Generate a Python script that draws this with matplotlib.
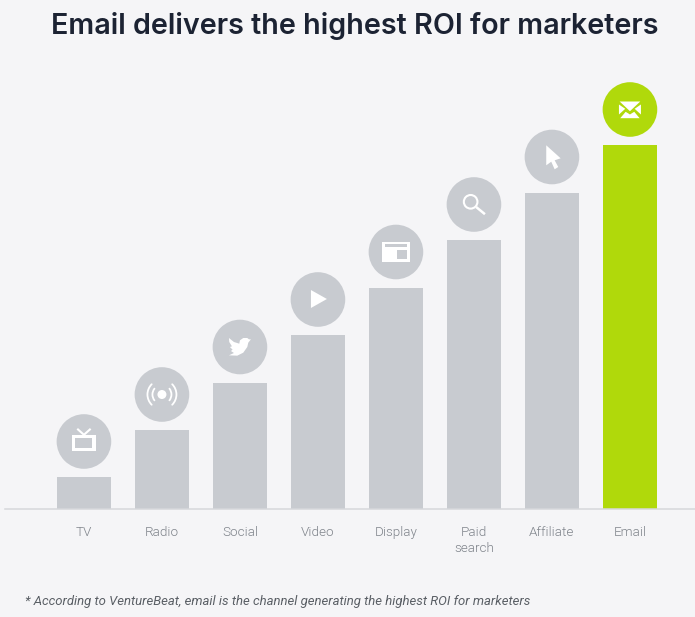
import matplotlib
matplotlib.use("Agg")
import matplotlib.pyplot as plt
from matplotlib.patches import Polygon, Rectangle, Circle, PathPatch
from matplotlib.path import Path
from matplotlib.transforms import Affine2D

categorias = ["TV", "Radio", "Social", "Video", "Display", "Paid\nsearch", "Affiliate", "Email"]
valores = [32, 79, 126.5, 174, 221.5, 269, 316.5, 364]

GRIS = "#c8cbd0"
VERDE = "#b0d90b"
FONDO = "#f5f5f7"
BLANCO = "#ffffff"

fig = plt.figure(figsize=(6.95, 6.17), dpi=100, facecolor=FONDO)
# 1 unidad y = 1 pixel, la base queda en y=509
ax = fig.add_axes([5 / 695, (617 - 509) / 617, 690 / 695, 509 / 617], facecolor="none")
ax.set_xlim(-1.012, 7.834)
ax.set_ylim(0, 509)

colores = [GRIS] * 7 + [VERDE]
ax.bar(range(8), valores, width=0.70, color=colores)

for s in ["top", "left", "right"]:
    ax.spines[s].set_visible(False)
ax.spines["bottom"].set_color("#d6d8db")
ax.spines["bottom"].set_linewidth(1.1)
ax.set_yticks([])
ax.set_xticks(range(8))
ax.set_xticklabels(categorias, family="Roboto", fontweight=300, fontsize=9.7, color="#80858c", linespacing=1.3)
ax.tick_params(axis="x", length=0, pad=12)

# circulos encima de cada barra
ax.scatter(range(8), [v + 35.5 for v in valores], s=1546, c=colores, linewidths=0, clip_on=False, zorder=3)


def centro(i):
    return Affine2D().translate(*ax.transData.transform((i, valores[i] + 35.5)))


def poli(i, pts, color=BLANCO):
    fig.add_artist(Polygon(pts, closed=True, fc=color, ec="none", transform=centro(i), zorder=5))


def caja(i, x0, y0, x1, y1, color=BLANCO):
    fig.add_artist(Rectangle((x0, y0), x1 - x0, y1 - y0, fc=color, ec="none", transform=centro(i), zorder=5))


def linea(i, pts, lw=1.6):
    fig.add_artist(PathPatch(Path(pts), fc="none", ec=BLANCO, lw=lw, transform=centro(i), zorder=5))


def arco(i, r, a1, a2, lw=1.3):
    p = Path.arc(a1, a2).transformed(Affine2D().scale(r))
    fig.add_artist(PathPatch(p, fc="none", ec=BLANCO, lw=lw, capstyle="round", transform=centro(i), zorder=5))


# TV
caja(0, -12, -9.7, 12, 6.7)
caja(0, -8.5, -6, 8.5, 3.7, GRIS)
linea(0, [(-6.7, 12.7), (0, 6.7), (6.7, 12.7)], lw=1.5)

# Radio
fig.add_artist(Circle((0, 0), 4.5, fc=BLANCO, ec="none", transform=centro(1), zorder=5))
for a1, a2, r in [(-38, 38, 9.5), (142, 218, 9.5), (-45, 45, 14.5), (135, 225, 14.5)]:
    arco(1, r, a1, a2)

# Social
pajaro = [(663, 117), (655, 127), (652, 140), (640, 157), (622, 166), (597, 165), (612, 158), (603, 152),
          (608, 148), (600, 140), (606, 138), (598, 125), (597, 113), (612, 125), (628, 130), (630, 120),
          (640, 113), (652, 113), (657, 117)]
poli(2, [((x - 630) / 3, (140 - y) / 3) for x, y in pajaro])

# Video
poli(3, [(-7, 9.5), (-7, -8.5), (9, 0.5)])

# Display
caja(4, -14, -10.3, 14, 10.3)
caja(4, -10.7, 5.3, 11.3, 7.7, GRIS)
caja(4, 1.3, -7.3, 10.7, 2, GRIS)

# Paid search
fig.add_artist(Circle((-3.3, 2.7), 6.8, fc="none", ec=BLANCO, lw=1.5, transform=centro(5), zorder=5))
linea(5, [(2.2, -2.5), (11, -9.7)], lw=1.8)

# Affiliate
poli(6, [(-5.7, 11.7), (8.7, -1.3), (2.7, -3.3), (6.3, -10), (2.7, -12.3), (-0.7, -4.7), (-5.7, -8.3)])

# Email
poli(7, [(-10.3, 8), (10.3, 8), (0, -1.7)])
poli(7, [(-11, 5), (-11, -5), (-4.7, 0.7)])
poli(7, [(11, 5), (11, -5), (4.7, 0.7)])
poli(7, [(-9.7, -8.7), (9.7, -8.7), (4.3, -2.3), (2, -3.7), (0, -5), (-2, -3.7), (-4.3, -2.3)])

fig.text(355 / 695, 1 - 26.5 / 617, "Email delivers the highest ROI for marketers", family="Inter",
         fontsize=20.7, fontweight=600, color="#1c2333", ha="center", va="center")
fig.text(25 / 695, 1 - 601 / 617, "* According to VentureBeat, email is the channel generating the highest ROI for marketers",
         family="Roboto", style="italic", fontsize=9.45, color="#5a5f65", ha="left", va="center")

fig.savefig("out.png", dpi=100, facecolor=FONDO)
